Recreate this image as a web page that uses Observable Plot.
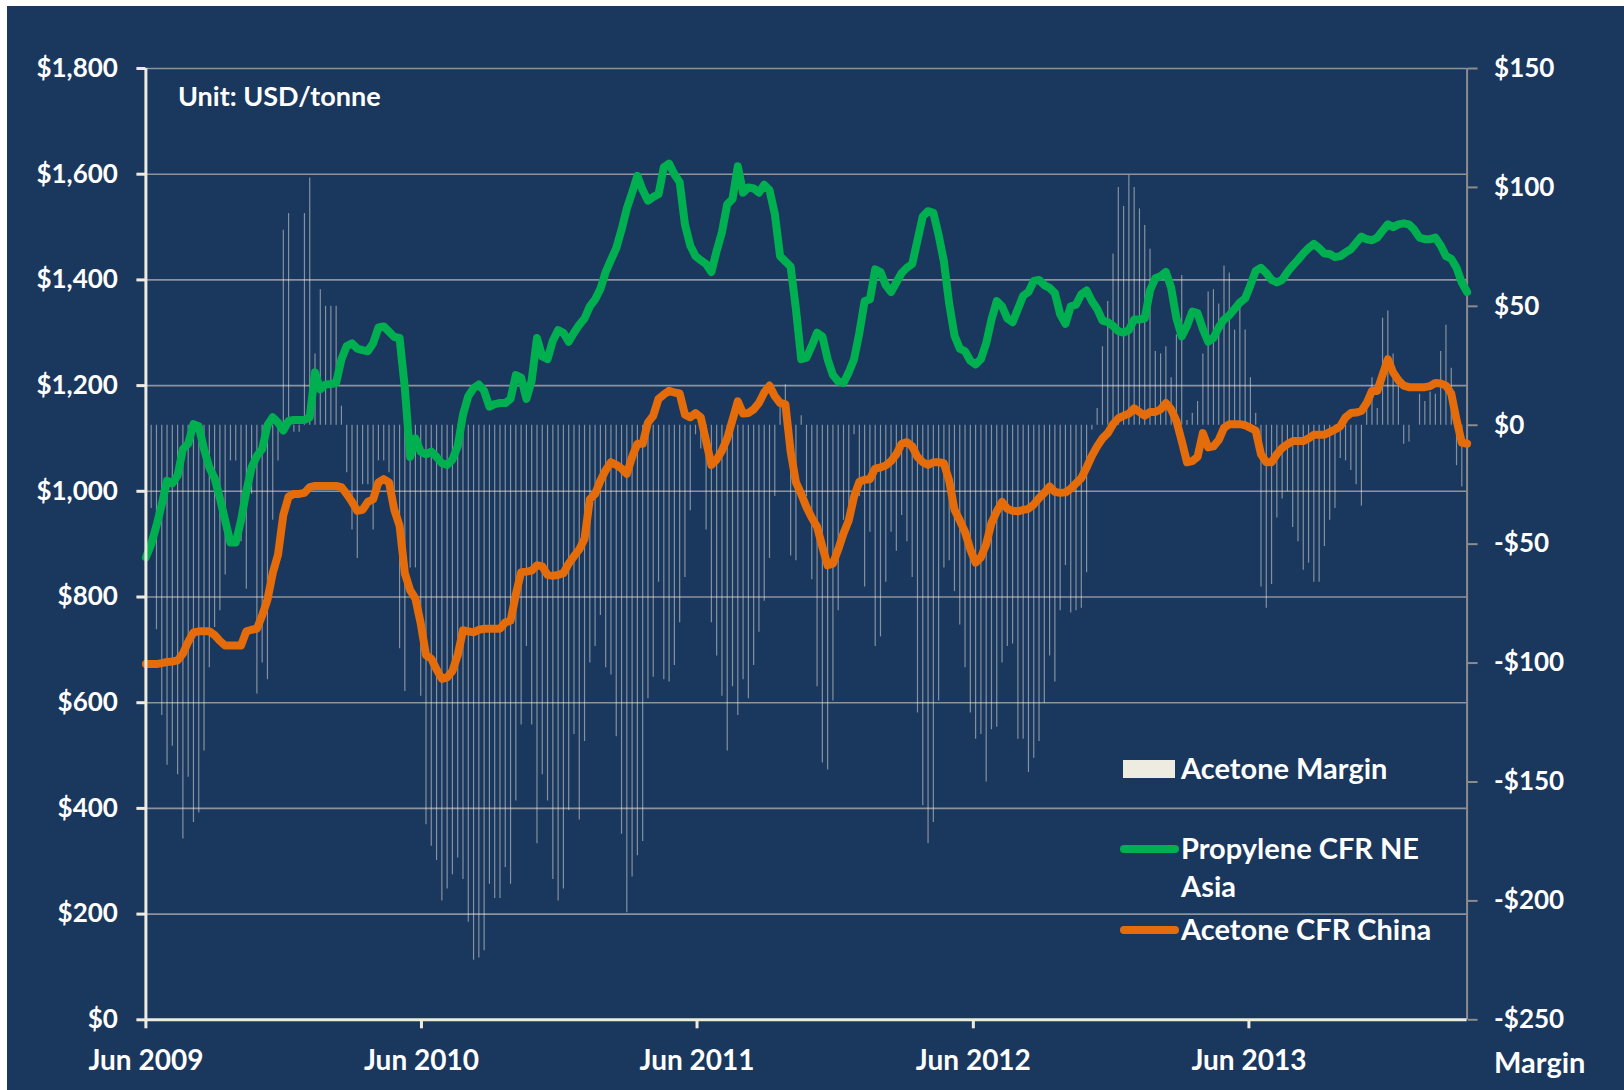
<!DOCTYPE html>
<html>
<head>
<meta charset="utf-8">
<script src="https://cdn.jsdelivr.net/npm/d3@7"></script>
<script src="https://cdn.jsdelivr.net/npm/@observablehq/plot@0.6"></script>
<style>
  html, body { margin: 0; padding: 0; background: #ffffff; }
  body { width: 1624px; height: 1090px; position: relative; overflow: hidden; font-family: Lato, "Open Sans", sans-serif; }
  #chart { position: absolute; left: 7px; top: 6px; width: 1617px; height: 1084px; background: #1a375e; }
  #overlay { position: absolute; left: 0; top: 0; pointer-events: none; }
  #overlay text { font-family: Lato, sans-serif; font-weight: 700; fill: #ffffff; }
</style>
</head>
<body>
<div id="chart"></div>
<svg id="overlay" width="1624" height="1090">
  <text x="178" y="106" font-size="27">Unit: USD/tonne</text>
  <rect x="1123" y="760" width="52" height="18" fill="#EEECE1"></rect>
  <text x="1181" y="779" font-size="29">Acetone Margin</text>
  <line x1="1124" x2="1175" y1="849" y2="849" stroke="#00B050" stroke-width="8" stroke-linecap="round"></line>
  <text x="1181" y="859" font-size="29">Propylene CFR NE</text>
  <text x="1181" y="897" font-size="29">Asia</text>
  <line x1="1124" x2="1175" y1="930" y2="930" stroke="#E46C0A" stroke-width="8" stroke-linecap="round"></line>
  <text x="1181" y="940" font-size="29">Acetone CFR China</text>
  <text x="1494" y="1073" font-size="29">Margin</text>
</svg>
<script>
// Weekly series, first week = early June 2009
const startDate = new Date(Date.UTC(2009, 5, 5));

const propylene = [
  875, 900, 935, 975, 1020, 1015, 1030, 1080, 1090, 1127,
  1123, 1080, 1045, 1025, 987, 945, 903, 903, 945, 1000,
  1045, 1067, 1080, 1125, 1140, 1130, 1115, 1133, 1135, 1135,
  1135, 1140, 1225, 1193, 1202, 1203, 1205, 1250, 1275, 1280,
  1270, 1267, 1265, 1280, 1310, 1312, 1302, 1292, 1290, 1195,
  1065, 1100, 1075, 1070, 1075, 1065, 1053, 1050, 1060, 1085,
  1145, 1180, 1195, 1202, 1190, 1160, 1165, 1167, 1167, 1175,
  1220, 1215, 1175, 1210, 1290, 1255, 1250, 1285, 1305, 1300,
  1283, 1300, 1315, 1327, 1350, 1363, 1383, 1415, 1438, 1460,
  1495, 1535, 1565, 1597, 1570, 1550, 1557, 1562, 1613, 1620,
  1600, 1585, 1505, 1465, 1445, 1437, 1430, 1415, 1455, 1490,
  1543, 1553, 1615, 1565, 1575, 1573, 1565, 1580, 1570, 1525,
  1445, 1435, 1425, 1345, 1250, 1253, 1275, 1300, 1293, 1250,
  1220, 1208, 1205, 1225, 1250, 1300, 1360, 1363, 1420, 1415,
  1390, 1377, 1395, 1413, 1423, 1430, 1475, 1520, 1530, 1527,
  1485, 1435, 1355, 1295, 1270, 1265, 1247, 1240, 1250, 1280,
  1325, 1360, 1350, 1327, 1320, 1345, 1370, 1377, 1398, 1400,
  1390, 1385, 1375, 1335, 1317, 1350, 1353, 1373, 1380, 1360,
  1345, 1323, 1320, 1313, 1303, 1300, 1305, 1325, 1325, 1327,
  1380, 1403, 1407, 1415, 1385, 1327, 1293, 1313, 1340, 1337,
  1307, 1283, 1290, 1310, 1325, 1333, 1345, 1357, 1365, 1390,
  1417, 1423, 1413, 1400, 1395, 1400, 1415, 1427, 1438, 1450,
  1460, 1468, 1460, 1450, 1449, 1443, 1445, 1452, 1458, 1470,
  1482, 1477, 1475, 1480, 1493, 1505, 1500, 1505, 1507, 1505,
  1495, 1480, 1477, 1477, 1480, 1465, 1445, 1440, 1423, 1395, 1377
];

const acetone = [
  673, 673, 673, 675, 677, 678, 680, 693, 715, 733,
  735, 735, 735, 728, 717, 708, 708, 708, 708, 735,
  738, 740, 765, 795, 845, 880, 955, 990, 995, 995,
  997, 1008, 1010, 1010, 1010, 1010, 1010, 1008, 995, 980,
  963, 965, 980, 985, 1017, 1023, 1017, 965, 935, 845,
  813, 797, 750, 690, 683, 663, 645, 648, 660, 690,
  737, 735, 733, 738, 740, 740, 740, 740, 752, 755,
  805, 847, 848, 850, 860, 858, 842, 840, 842, 845,
  863, 877, 890, 910, 985, 995, 1020, 1040, 1055, 1050,
  1043, 1033, 1065, 1090, 1090, 1130, 1143, 1175, 1183, 1190,
  1187, 1185, 1145, 1140, 1148, 1140, 1095, 1050, 1060, 1077,
  1100, 1135, 1170, 1147, 1148, 1155, 1167, 1187, 1200, 1180,
  1167, 1165, 1075, 1017, 995, 970, 950, 933, 895, 860,
  863, 890, 920, 945, 990, 1018, 1022, 1023, 1043, 1045,
  1049, 1057, 1070, 1090, 1093, 1085, 1065, 1055, 1050, 1055,
  1055, 1053, 1020, 965, 945, 923, 890, 865, 875, 900,
  940, 962, 980, 967, 963, 962, 965, 967, 975, 987,
  997, 1009, 999, 997, 998, 1005, 1015, 1025, 1045, 1067,
  1085, 1100, 1110, 1127, 1138, 1143, 1147, 1157, 1150, 1143,
  1150, 1150, 1155, 1167, 1155, 1133, 1095, 1055, 1057, 1065,
  1110, 1083, 1085, 1097, 1120, 1127, 1127, 1127, 1125, 1120,
  1115, 1070, 1055, 1055, 1070, 1082, 1089, 1095, 1095, 1095,
  1100, 1107, 1107, 1107, 1112, 1117, 1123, 1140, 1148, 1149,
  1152, 1167, 1190, 1190, 1220, 1250, 1225, 1210, 1200, 1197,
  1197, 1197, 1197, 1199, 1205, 1204, 1200, 1185, 1135, 1092, 1090
];

const margin = [
  -30, -35, -86, -122, -143, -135, -147, -174, -148, -167,
  -163, -137, -102, -85, -78, -63, -15, -15, -49, -69,
  -29, -113, -100, -107, -40, -15, 82, 89, -3, -3,
  89, 104, 30, 57, 50, 50, 50, 8, -20, -44,
  -56, -25, -25, -44, -15, -15, -20, -30, -94, -112,
  -60, -60, -114, -168, -177, -183, -200, -195, -189, -182,
  -191, -209, -225, -224, -221, -193, -199, -199, -186, -193,
  -158, -126, -93, -126, -176, -147, -158, -191, -200, -195,
  -162, -130, -166, -133, -100, -93, -80, -102, -105, -131,
  -172, -205, -190, -181, -175, -115, -106, -66, -107, -108,
  -101, -83, -64, -36, -4, -10, -44, -83, -97, -114,
  -137, -110, -122, -107, -115, -101, -87, -74, -56, -30,
  10, 17, -55, -57, 4, -30, -65, -110, -142, -145,
  -116, -78, -40, -40, -4, -30, -68, -45, -93, -89,
  -66, -45, -53, -38, -49, -64, -121, -160, -176, -167,
  -116, -60, -57, -70, -84, -102, -121, -132, -130, -150,
  -128, -127, -100, -93, -92, -132, -132, -146, -140, -133,
  -117, -97, -108, -78, -59, -79, -78, -77, -62, -2,
  7, 33, 52, 72, 100, 92, 105, 100, 91, 84,
  74, 31, 30, 33, 20, 38, 63, 2, 5, 10,
  30, 56, 57, 51, 67, 64, 40, 50, 40, 20,
  5, -68, -77, -67, -39, -31, -28, -43, -49, -61,
  -58, -66, -66, -51, -40, -35, -14, -15, -19, -25,
  -34, 11, 20, 7, 45, 48, 30, 20, -8, -7,
  0, 13, 10, 14, 13, 31, 42, 24, -17, -26, -15
];

const priceTicks = [0, 200, 400, 600, 800, 1000, 1200, 1400, 1600, 1800];
const marginTicks = [-250, -200, -150, -100, -50, 0, 50, 100, 150];
const xTickYears = [2009, 2010, 2011, 2012, 2013];

const dates = propylene.map((_, i) => d3.utcDay.offset(startDate, 7 * i));
const xTicks = xTickYears.map(y => new Date(Date.UTC(y, 5, 5)));
const idx = d3.range(dates.length);

// secondary (margin) axis mapped onto primary price axis
const toPrice = d3.scaleLinear([-250, 150], [0, 1800]);
const fmtPrice = d => "$" + d3.format(",")(d);
const fmtMargin = v => { const m = Math.round(toPrice.invert(v)); return m < 0 ? "-$" + (-m) : "$" + m; };

const cream = "#EEECE1";
const grid = "#8d929b";

const chart = Plot.plot({
  width: 1617,
  height: 1084,
  marginLeft: 138.4,
  marginRight: 157.4,
  marginTop: 62,
  marginBottom: 70.7,
  style: { background: "#1a375e", fontFamily: "Lato, sans-serif", fontWeight: "bold", color: "#ffffff", overflow: "visible" },
  x: { type: "utc", domain: [dates[0], dates[dates.length - 1]] },
  y: { domain: [0, 1800] },
  marks: [
    Plot.gridY(priceTicks.slice(1), { stroke: grid, strokeOpacity: 1, strokeWidth: 1.6 }),
    Plot.ruleX(idx, { x: i => dates[i], y1: toPrice(0), y2: i => toPrice(margin[i]), stroke: cream, strokeOpacity: 0.5, strokeWidth: 1.2 }),
    Plot.ruleX([dates[dates.length - 1]], { stroke: "#8c8c8c", strokeWidth: 2 }),
    Plot.lineY(idx, { x: i => dates[i], y: i => propylene[i], stroke: "#00B050", strokeWidth: 8, strokeLinejoin: "round", strokeLinecap: "round" }),
    Plot.lineY(idx, { x: i => dates[i], y: i => acetone[i], stroke: "#E46C0A", strokeWidth: 8, strokeLinejoin: "round", strokeLinecap: "round" }),
    Plot.ruleX([dates[0]], { stroke: cream, strokeWidth: 3 }),
    Plot.ruleY([0], { stroke: cream, strokeWidth: 3 }),
    Plot.axisY(priceTicks, { anchor: "left", tickFormat: fmtPrice, tickSize: 9, tickPadding: 19, stroke: cream, strokeWidth: 3, fill: "#ffffff", fontSize: 26, fontWeight: "bold", label: null }),
    Plot.axisY(marginTicks.map(m => toPrice(m)), { anchor: "right", tickFormat: fmtMargin, tickSize: 10, tickPadding: 17, stroke: "#8c8c8c", strokeWidth: 2, fill: "#ffffff", fontSize: 26, fontWeight: "bold", label: null }),
    Plot.axisX(xTicks, { anchor: "bottom", tickFormat: d3.utcFormat("%b %Y"), tickSize: 9, tickPadding: 21, stroke: cream, strokeWidth: 3, fill: "#ffffff", fontSize: 28, fontWeight: "bold", label: null })
  ]
});
document.getElementById("chart").appendChild(chart);
</script>
</body>
</html>
